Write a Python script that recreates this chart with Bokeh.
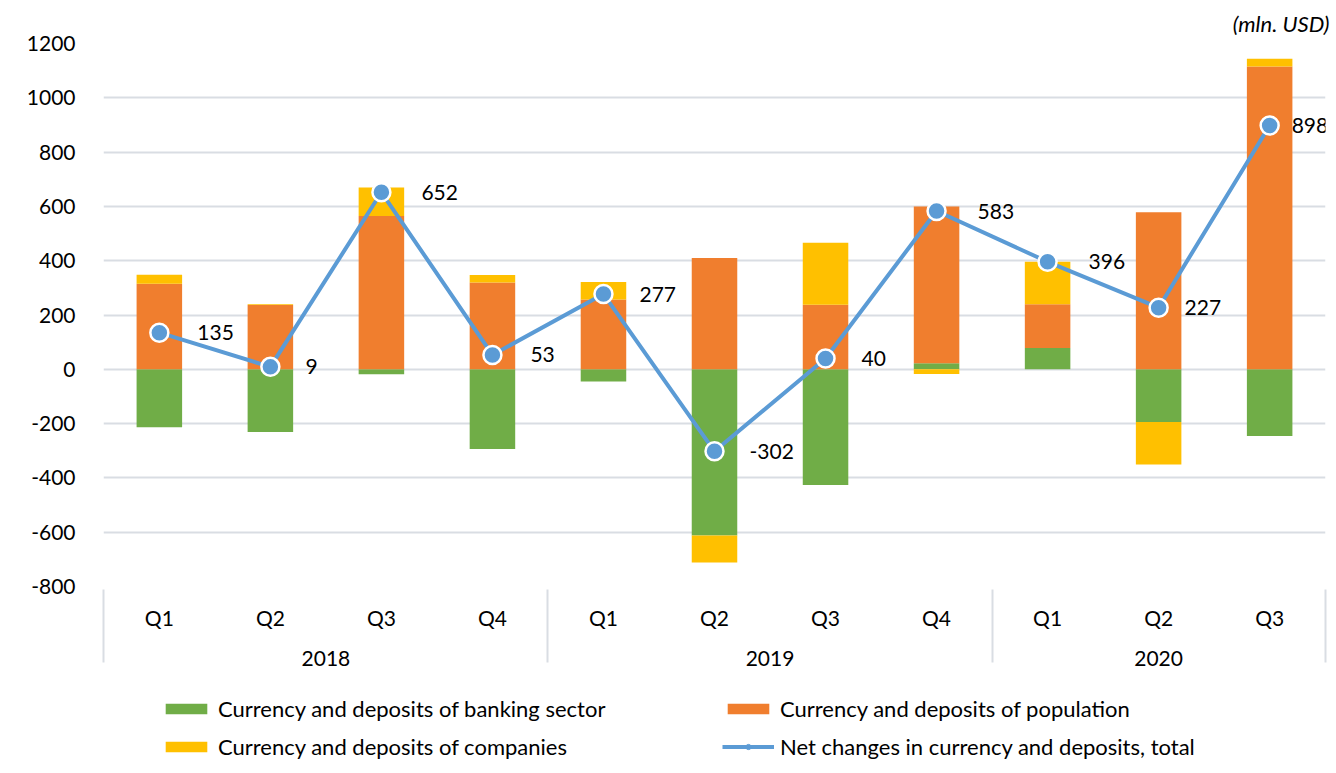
import numpy as np
from bokeh.plotting import figure
from bokeh.layouts import column
from bokeh.models import (FactorRange, ColumnDataSource, FixedTicker, Legend,
                          LegendItem, LabelSet, Title)
from bokeh.core.properties import value
from bokeh.embed import file_html
from bokeh.resources import INLINE

years = ["2018"] * 4 + ["2019"] * 4 + ["2020"] * 3
quarters = ["Q1", "Q2", "Q3", "Q4", "Q1", "Q2", "Q3", "Q4", "Q1", "Q2", "Q3"]
banking = [-213, -231, -18, -294, -45, -612, -426, 22, 78, -194, -246]
population = [315, 237, 565, 320, 257, 410, 238, 578, 162, 578, 1115]
companies = [33, 3, 105, 27, 65, -100, 228, -17, 156, -157, 29]
net_total = [135, 9, 652, 53, 277, -302, 40, 583, 396, 227, 898]
y_ticks = [-800, -600, -400, -200, 0, 200, 400, 600, 800, 1000, 1200]
label_dx = [38, 35, 40, 38, 36, 35, 36, 41, 41, 26, 22]  # label offsets (px)

names = ["Currency and deposits of banking sector",
         "Currency and deposits of population",
         "Currency and deposits of companies",
         "Net changes in currency and deposits, total"]
colors = ["#70AD47", "#F07E2E", "#FFC000", "#5B9BD5"]

FONT = "Lato"
factors = list(zip(years, quarters))
# blank edge groups just outside the visible range so that the axis draws
# group separators at both ends of the category axis
edge_factors = [(" ", "")] + factors + [("  ", "")]

x_range = FactorRange(*edge_factors, factor_padding=0, group_padding=0,
                      range_padding=-0.997, range_padding_units="absolute")

p = figure(x_range=x_range, y_range=(-800, 1200), width=1336, height=690,
           output_backend="svg", toolbar_location=None,
           min_border_left=103, min_border_right=11, min_border_top=41,
           min_border_bottom=104)

pos = np.zeros(len(factors))
neg = np.zeros(len(factors))
for vals, color in zip([banking, population, companies], colors[:3]):
    v = np.array(vals, dtype=float)
    bottom = np.where(v >= 0, pos, neg)
    top = bottom + v
    pos = np.where(v >= 0, top, pos)
    neg = np.where(v < 0, top, neg)
    src = ColumnDataSource(dict(x=factors, bottom=bottom, top=top))
    p.vbar(x="x", bottom="bottom", top="top", width=0.41, source=src,
           fill_color=color, line_color=None)

lsrc = ColumnDataSource(dict(x=factors, y=net_total, dx=label_dx,
                             label=[str(v) for v in net_total]))
p.line(x="x", y="y", source=lsrc, line_color=colors[3], line_width=4)
p.scatter(x="x", y="y", source=lsrc, size=18, fill_color=colors[3],
          line_color="white", line_width=2.5)
labels = LabelSet(x="x", y="y", text="label", source=lsrc, x_offset="dx", y_offset=0,
                  text_baseline="middle", text_align="left", text_font=value(FONT),
                  text_font_size="21px", text_color="#000000")
p.add_layout(labels)

# axes
p.yaxis.ticker = FixedTicker(ticks=y_ticks)
p.yaxis.major_label_overrides = {t: str(t) for t in y_ticks}
p.yaxis.axis_line_color = None
p.yaxis.major_tick_line_color = None
p.yaxis.minor_tick_line_color = None
p.yaxis.major_tick_out = 0
p.yaxis.major_label_standoff = 28
p.yaxis.major_label_text_font = FONT
p.yaxis.major_label_text_font_size = "21px"
p.yaxis.major_label_text_color = "#000000"

xa = p.xaxis[0]
xa.axis_line_color = None
xa.major_tick_line_color = None
xa.major_tick_out = 0
xa.major_label_standoff = 18
xa.major_label_text_font = FONT
xa.major_label_text_font_size = "21px"
xa.major_label_text_color = "#000000"
xa.group_text_font = FONT
xa.group_text_font_size = "21px"
xa.group_text_font_style = "normal"
xa.group_text_color = "#000000"
xa.separator_line_color = "#D9DDE3"
xa.separator_line_width = 2

p.ygrid.ticker = FixedTicker(ticks=y_ticks)
p.ygrid.grid_line_color = "#D9DDE3"
p.ygrid.grid_line_width = 2
p.xgrid.grid_line_color = None
p.outline_line_color = None

title = Title(text="(mln. USD)", align="right", text_font=FONT, text_font_size="22px",
              text_font_style="italic", text_color="#000000", offset=-4, standoff=14)
p.add_layout(title, "above")

# legend strip below the chart: swatch renderers kept outside the visible area
pl = figure(width=1336, height=83, x_range=(0, 1), y_range=(0, 1),
            x_axis_type=None, y_axis_type=None, output_backend="svg",
            toolbar_location=None, min_border=0)
pl.outline_line_color = None
pl.xgrid.visible = False
pl.ygrid.visible = False
sw = [pl.vbar(x=[-5], bottom=[-5], top=[-4], width=0.5, fill_color=c, line_color=None)
      for c in colors[:3]]
sw_line = pl.line(x=[-5, -4], y=[-5, -5], line_color=colors[3], line_width=4)
sw_dot = pl.scatter(x=[-5], y=[-5], size=11, fill_color=colors[3], line_color=colors[3])

common = dict(orientation="horizontal", glyph_width=52, glyph_height=13,
              label_standoff=6, spacing=14, label_width=490, margin=0, padding=6,
              label_text_font=FONT, label_text_font_size="22px",
              label_text_color="#000000", border_line_color=None,
              background_fill_alpha=0)
legend_a = Legend(items=[LegendItem(label=names[0], renderers=[sw[0]]),
                         LegendItem(label=names[1], renderers=[sw[1]])],
                  location=(57, 51), **common)
legend_b = Legend(items=[LegendItem(label=names[2], renderers=[sw[2]]),
                         LegendItem(label=names[3], renderers=[sw_line, sw_dot])],
                  location=(57, 13), **common)
pl.add_layout(legend_a)
pl.add_layout(legend_b)

layout = column(p, pl, spacing=0)
open("out.html", "w").write(file_html(layout, INLINE))
